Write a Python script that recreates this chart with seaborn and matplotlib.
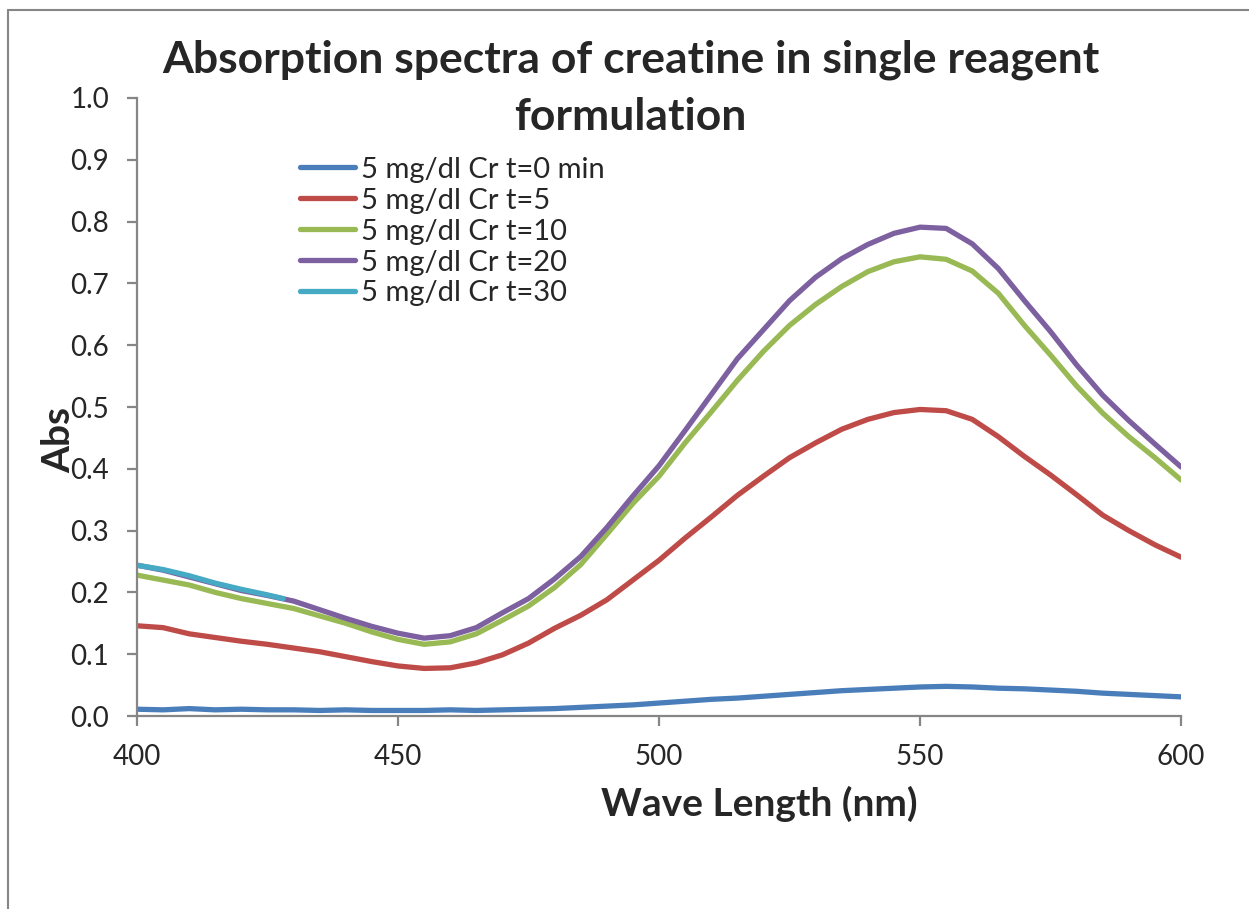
import matplotlib
matplotlib.use("Agg")
import matplotlib.pyplot as plt
from matplotlib.lines import Line2D
import seaborn as sns
import pandas as pd

# wavelength grid (nm) at 5 nm steps
wavelength = [400, 405, 410, 415, 420, 425, 430, 435, 440, 445,
              450, 455, 460, 465, 470, 475, 480, 485, 490, 495,
              500, 505, 510, 515, 520, 525, 530, 535, 540, 545,
              550, 555, 560, 565, 570, 575, 580, 585, 590, 595, 600]

abs_t0 = [0.011, 0.010, 0.012, 0.010, 0.011, 0.010, 0.010, 0.009, 0.010, 0.009,
          0.009, 0.009, 0.010, 0.009, 0.010, 0.011, 0.012, 0.014, 0.016, 0.018,
          0.021, 0.024, 0.027, 0.029, 0.032, 0.035, 0.038, 0.041, 0.043, 0.045,
          0.047, 0.048, 0.047, 0.045, 0.044, 0.042, 0.040, 0.037, 0.035, 0.033, 0.031]

abs_t5 = [0.146, 0.143, 0.133, 0.127, 0.121, 0.116, 0.110, 0.104, 0.096, 0.088,
          0.081, 0.077, 0.078, 0.086, 0.099, 0.118, 0.142, 0.163, 0.188, 0.220,
          0.252, 0.288, 0.322, 0.357, 0.388, 0.418, 0.442, 0.464, 0.480, 0.491,
          0.496, 0.494, 0.480, 0.452, 0.420, 0.390, 0.358, 0.325, 0.300, 0.277, 0.257]

abs_t10 = [0.228, 0.220, 0.212, 0.200, 0.190, 0.182, 0.174, 0.162, 0.150, 0.136,
           0.124, 0.116, 0.120, 0.133, 0.155, 0.178, 0.208, 0.245, 0.294, 0.344,
           0.388, 0.442, 0.492, 0.543, 0.590, 0.632, 0.666, 0.695, 0.719, 0.735,
           0.743, 0.739, 0.720, 0.684, 0.632, 0.584, 0.534, 0.490, 0.452, 0.418, 0.382]

abs_t20 = [0.244, 0.236, 0.225, 0.214, 0.203, 0.195, 0.186, 0.172, 0.158, 0.145,
           0.134, 0.126, 0.130, 0.143, 0.167, 0.190, 0.222, 0.258, 0.305, 0.356,
           0.405, 0.462, 0.520, 0.578, 0.625, 0.672, 0.710, 0.740, 0.763, 0.781,
           0.791, 0.789, 0.764, 0.724, 0.672, 0.622, 0.568, 0.519, 0.478, 0.440, 0.403]

# t=30 trace only covers the start of the scan
wavelength_t30 = [400, 405, 410, 415, 420, 425, 428]
abs_t30 = [0.244, 0.237, 0.227, 0.215, 0.205, 0.196, 0.190]

labels = ["5 mg/dl Cr t=0 min", "5 mg/dl Cr t=5", "5 mg/dl Cr t=10",
          "5 mg/dl Cr t=20", "5 mg/dl Cr t=30"]
colors = ["#4A7EBB", "#BE4B48", "#98B954", "#7D60A0", "#46AAC5"]

frames = []
for lab, x, y in zip(labels,
                     [wavelength] * 4 + [wavelength_t30],
                     [abs_t0, abs_t5, abs_t10, abs_t20, abs_t30]):
    frames.append(pd.DataFrame({"wl": x, "abs": y, "series": lab}))
df = pd.concat(frames, ignore_index=True)

sns.set_style("white")
plt.rcParams["font.family"] = ["Lato", "DejaVu Sans"]

fig = plt.figure(figsize=(12.49, 9.09), dpi=100)
ax = fig.add_axes([0.1097, 0.2123, 0.8359, 0.6799])

sns.lineplot(data=df, x="wl", y="abs", hue="series", hue_order=labels,
             palette=colors, linewidth=3.8, ax=ax, legend=False,
             solid_capstyle="round", solid_joinstyle="round")

ax.set_xlim(400, 600)
ax.set_ylim(0, 1.0)
ax.set_xticks([400, 450, 500, 550, 600])
ax.set_yticks([i / 10 for i in range(11)])
ax.set_yticklabels([f"{i / 10:.1f}" for i in range(11)])

grey = "#868686"
for side in ["top", "right"]:
    ax.spines[side].set_visible(False)
for side in ["left", "bottom"]:
    ax.spines[side].set_color(grey)
    ax.spines[side].set_linewidth(1.6)
ax.tick_params(axis="both", direction="out", length=7, width=1.6, color=grey,
               labelsize=20, left=True, bottom=True)
ax.tick_params(axis="y", pad=13)
ax.tick_params(axis="x", pad=13)

ax.set_xlabel("Wave Length (nm)", fontsize=28, fontweight="bold")
ax.xaxis.set_label_coords(0.596, -0.113)
ax.set_ylabel("Abs", fontsize=28, fontweight="bold")
ax.yaxis.set_label_coords(-0.058, 0.447)

fig.text(0.505, 0.956, "Absorption spectra of creatine in single reagent\nformulation",
         ha="center", va="top", fontsize=32, fontweight="bold", linespacing=1.5)

handles = [Line2D([0], [0], color=c, lw=3.8, solid_capstyle="round") for c in colors]
ax.legend(handles, labels, loc="upper left", bbox_to_anchor=(0.145, 0.924),
          frameon=False, fontsize=21, handlelength=1.9, handletextpad=0.2,
          labelspacing=0.17, borderaxespad=0)

# outer chart frame (left and top edges visible in the source image)
fig.add_artist(Line2D([8 / 1249, 8 / 1249], [0, 1 - 10 / 909], color=grey, lw=1.5))
fig.add_artist(Line2D([8 / 1249, 1], [1 - 10 / 909, 1 - 10 / 909], color=grey, lw=1.5))

fig.savefig("out.png", dpi=100)
